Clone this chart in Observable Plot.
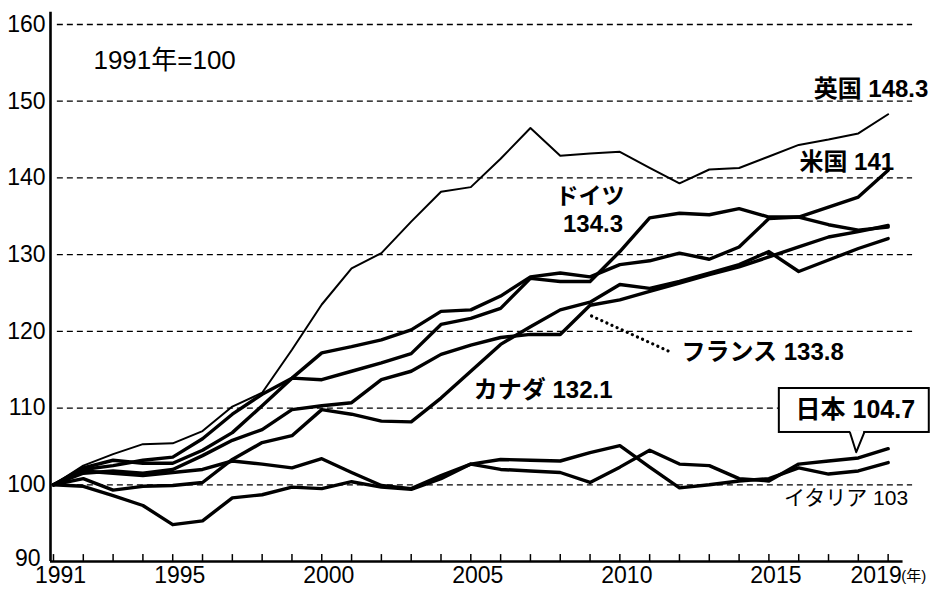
<!DOCTYPE html>
<html><head><meta charset="utf-8">
<script src="https://cdn.jsdelivr.net/npm/d3@7"></script>
<script src="https://cdn.jsdelivr.net/npm/@observablehq/plot@0.6"></script>
<style>
body{margin:0;background:#fff;}
#chart svg{display:block;}
</style>
</head><body><div id="chart"></div>
<script>
const years = [1991,1992,1993,1994,1995,1996,1997,1998,1999,2000,2001,2002,2003,2004,2005,2006,2007,2008,2009,2010,2011,2012,2013,2014,2015,2016,2017,2018,2019];
const uk      = [100,102.5,104,105.3,105.4,107,110.2,112,117.6,123.5,128.2,130.2,134.3,138.2,138.8,142.5,146.5,142.9,143.2,143.4,141.3,139.3,141.1,141.3,142.8,144.3,145,145.8,148.3];
const us      = [100,102,102.5,103.2,103.6,106,109.2,111.8,113.9,117.2,118,118.9,120.2,122.6,122.8,124.6,127.1,127.6,127.1,128.7,129.2,130.2,129.4,131,134.7,134.9,136.2,137.5,141];
const germany = [100,102.2,103.2,102.8,102.8,104.5,106.8,110.3,113.9,113.7,114.8,115.9,117.1,120.9,121.7,123,126.9,126.5,126.5,130.4,134.8,135.4,135.2,136,134.9,134.9,133.9,133.2,133.6];
const france  = [100,101.5,101.8,101.5,102,103.8,105.8,107.2,109.8,110.3,110.7,113.7,114.8,117,118.2,119.2,119.6,119.6,123.4,124.1,125.2,126.3,127.4,128.4,129.7,131,132.3,133,133.8];
const canada  = [100,100.8,99.3,99.8,99.9,100.3,103.3,105.5,106.4,109.8,109.2,108.3,108.2,111.3,114.8,118.3,120.6,122.8,123.8,126.1,125.6,126.5,127.6,128.7,130.4,127.8,129.3,130.8,132.1];
const japan   = [100,101.8,101.5,101.2,101.6,102,103.1,102.7,102.2,103.4,101.6,99.9,99.5,101.2,102.7,102,101.8,101.6,100.3,102.3,104.5,102.7,102.5,100.8,100.5,102.7,103.1,103.5,104.7];
const italy   = [100,99.8,98.6,97.3,94.8,95.3,98.3,98.7,99.7,99.5,100.4,99.7,99.4,100.8,102.7,103.3,103.2,103.1,104.2,105.1,102.3,99.6,100,100.5,100.8,102.2,101.4,101.8,102.9];

const yTicks = [100,110,120,130,140,150,160];
const yTickBottom = [90];
const gridVals = [100,110,120,130,140,150,160];
const xTickYears = [1991,1995,2000,2005,2010,2015];

const series = [
  {name:"英国", values: uk},
  {name:"米国", values: us},
  {name:"ドイツ", values: germany},
  {name:"フランス", values: france},
  {name:"カナダ", values: canada},
  {name:"日本", values: japan},
  {name:"イタリア", values: italy}
];
const rows = series.flatMap(s => years.map((yr, i) => ({name: s.name, year: yr, value: s.values[i]})));

// annotation placement (data coordinates)
const X0 = 1990.9, X1 = 2019.75;
const leader = [{x: 2009.05, y: 122.0}, {x: 2011.7, y: 117.3}];
const boxJ = {x1: 2015.35, x2: 2020.38, y1: 106.82, y2: 112.55};
const pointer = [{x: 2017.72, y: 106.82}, {x: 2017.93, y: 104.25}, {x: 2018.2, y: 106.82}];

const font = "'Liberation Sans', Arial, 'Noto Sans CJK JP', sans-serif";

const plot = Plot.plot({
  width: 936, height: 595,
  marginLeft: 50, marginRight: 26, marginTop: 24, marginBottom: 34,
  x: {domain: [X0, X1], axis: null},
  y: {domain: [90, 160], axis: null},
  style: {fontFamily: font, background: "white", color: "black", overflow: "visible"},
  marks: [
    Plot.ruleY(gridVals, {x1: 1991.13, x2: 2019.82, stroke: "black", strokeWidth: 1.3, strokeDasharray: "6,4"}),
    Plot.ruleX(years, {y1: 90, y2: 90.9, stroke: "black", strokeWidth: 1.5}),
    Plot.ruleX([X0], {y1: 90, y2: 161.6, stroke: "black", strokeWidth: 2.6}),
    Plot.ruleY([90], {x1: X0, x2: 2019.5, stroke: "black", strokeWidth: 2.6}),
    Plot.line(rows.filter(d => d.name !== "英国"), {x: "year", y: "value", z: "name", stroke: "black", strokeWidth: 3.4, strokeLinejoin: "round"}),
    Plot.line(rows.filter(d => d.name === "英国"), {x: "year", y: "value", stroke: "black", strokeWidth: 2, strokeLinejoin: "round"}),
    // axis labels
    Plot.text(yTicks, {x: X0, y: d => d, text: d => String(d), textAnchor: "end", dx: -5, fontSize: 23}),
    Plot.text(yTickBottom, {x: X0, y: d => d, text: d => String(d), textAnchor: "end", dx: -10, dy: -3, fontSize: 23}),
    Plot.text(xTickYears, {x: d => d, y: 90, text: d => String(d), dx: 7, dy: 14, fontSize: 23}),
    Plot.text([2019], {x: d => d, y: 90, text: d => String(d), dx: -12, dy: 14, fontSize: 23}),
    Plot.text([2019], {x: d => d, y: 90, text: () => "(年)", textAnchor: "start", dx: 13, dy: 15, fontSize: 15}),
    // annotations
    Plot.text(["1991年=100"], {x: 1992.34, y: 155.3, text: d => d, textAnchor: "start", fontSize: 26}),
    Plot.text(["英国 148.3"], {x: 2020.35, y: 151.5, text: d => d, textAnchor: "end", fontSize: 24, fontWeight: "bold"}),
    Plot.text(["米国 141"], {x: 2019.2, y: 142.0, text: d => d, textAnchor: "end", fontSize: 24, fontWeight: "bold"}),
    Plot.text(["ドイツ"], {x: 2009.0, y: 137.6, text: d => d, fontSize: 23, fontWeight: "bold"}),
    Plot.text(["134.3"], {x: 2009.1, y: 133.95, text: d => d, fontSize: 24, fontWeight: "bold"}),
    Plot.line(leader, {x: "x", y: "y", stroke: "black", strokeWidth: 3.2, strokeDasharray: "0.1,5.5", strokeLinecap: "round"}),
    Plot.text(["フランス 133.8"], {x: 2012.07, y: 117.25, text: d => d, textAnchor: "start", fontSize: 24, fontWeight: "bold"}),
    Plot.text(["カナダ 132.1"], {x: 2005.1, y: 112.3, text: d => d, textAnchor: "start", fontSize: 24, fontWeight: "bold"}),
    Plot.rect([boxJ], {x1: "x1", x2: "x2", y1: "y1", y2: "y2", fill: "white", stroke: "black", strokeWidth: 2}),
    Plot.ruleY([106.82], {x1: 2017.74, x2: 2018.18, stroke: "white", strokeWidth: 3}),
    Plot.line(pointer, {x: "x", y: "y", stroke: "black", strokeWidth: 2}),
    Plot.text(["日本 104.7"], {x: 2017.9, y: 109.7, text: d => d, fontSize: 25, fontWeight: "bold"}),
    Plot.text(["イタリア 103"], {x: 2019.67, y: 98.2, text: d => d, textAnchor: "end", fontSize: 21})
  ]
});
document.getElementById("chart").appendChild(plot);
</script>
</body></html>
